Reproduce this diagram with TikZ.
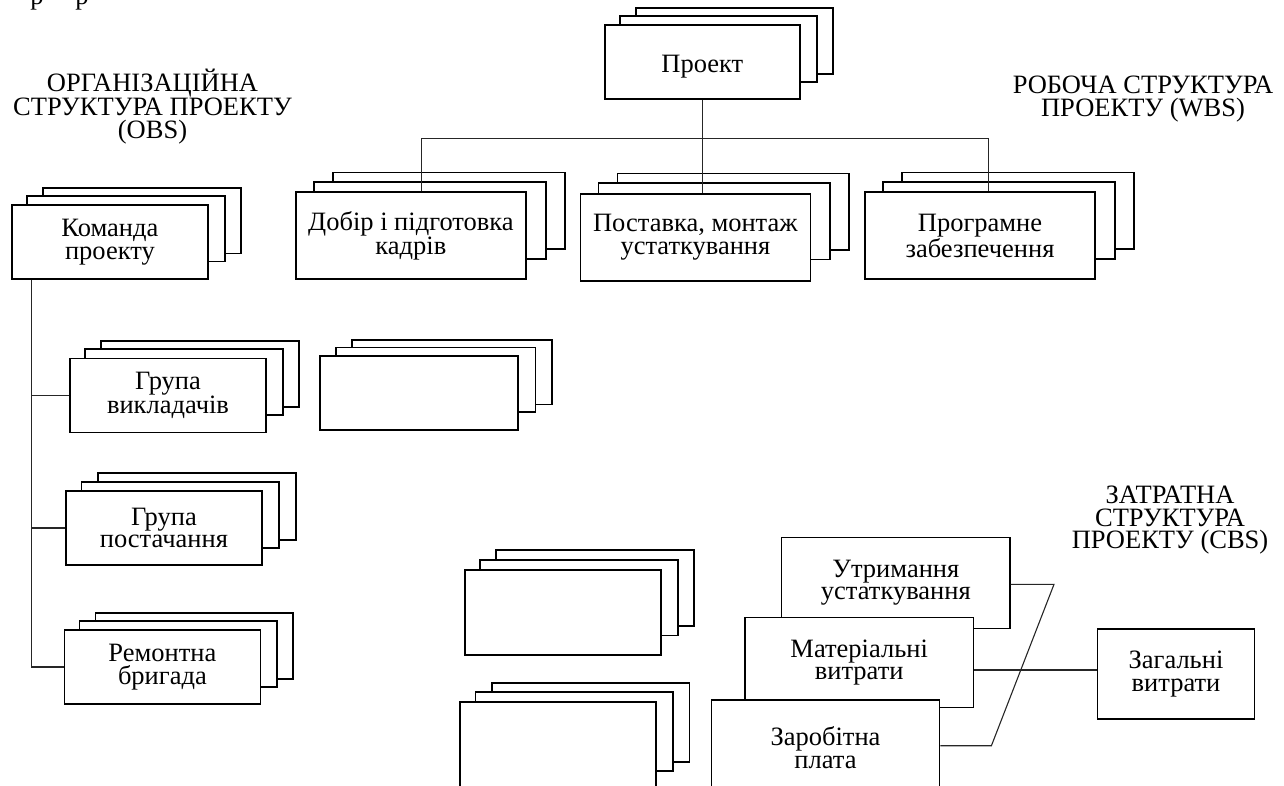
\documentclass[tikz,border=0pt]{standalone}
\usepackage{fontspec}
\setmainfont{Liberation Serif}
\usepackage{tikz}
\usetikzlibrary{calc, backgrounds}

% two sheets behind a front box: node, x step, y step, height loss
\newcommand{\backsheets}[4]{%
    \begin{scope}[on background layer]
        \foreach \k in {2,1}{
            \draw[sheet] ($(#1.north west)+(\k*#2,-\k*#3)$)
                rectangle ($(#1.south east)+(\k*#2,-\k*#3-#4)$);
        }
    \end{scope}}

\begin{document}
\begin{tikzpicture}[
    x=1pt, y=-1pt,
    % ── Text style ───────────────────────────────────────────────────
    txt/.style={font=\fontsize{26.5}{22.5}\selectfont,
                align=center, inner sep=0pt},
    % ── Box styles (front text sits a little low, as in the source) ──
    front/.style={txt, draw, rectangle, fill=white, line width=1.8pt,
                  execute at begin node={\rule{0pt}{26pt}}},
    sheet/.style={draw, fill=white, line width=1.8pt},
    obsbox/.style={front, minimum width=196pt, minimum height=74pt},
    wbsbox/.style={front, minimum width=230pt, minimum height=87pt},
    costbox/.style={txt, draw, rectangle, fill=white, line width=1.3pt,
                    minimum width=228.5pt, minimum height=91pt},
    % ── Connectors ───────────────────────────────────────────────────
    link/.style={line width=1.1pt, draw=black!85}
]
    \useasboundingbox (0,0) rectangle (1284,785);
    \clip (0,0) rectangle (1284,785);

% ══════════════════════════════════════════════════════════════════════
% TITLES
% ══════════════════════════════════════════════════════════════════════

    \node[txt, anchor=base] (cut1) at (37,4.5) {р};
    \node[txt, anchor=base] (cut2) at (82,4.5) {р};

    \node[txt] (obs) at (152.5,106.7)
        {ОРГАНІЗАЦІЙНА\\СТРУКТУРА ПРОЕКТУ\\(OBS)};
    \node[txt] (wbs) at (1143,99)
        {РОБОЧА СТРУКТУРА\\ПРОЕКТУ (WBS)};
    \node[txt] (cbs) at (1170,520.5)
        {ЗАТРАТНА\\СТРУКТУРА\\ПРОЕКТУ (CBS)};

% ══════════════════════════════════════════════════════════════════════
% WORK STRUCTURE (WBS)
% ══════════════════════════════════════════════════════════════════════

    \node[obsbox, minimum width=195pt] (proj) at (702.3,62.2) {Проект};
    \node[wbsbox] (dobir)  at (410.9,235.8) {Добір і підготовка\\кадрів};
    \node[wbsbox] (postav) at (695.4,237.2) {Поставка, монтаж\\устаткування};
    \node[wbsbox] (progr)  at (980,235.8)   {Програмне\\забезпечення};

    \backsheets{proj}{16}{8}{10}
    \backsheets{dobir}{19}{9.5}{12}
    \backsheets{postav}{19}{9.7}{12.5}
    \backsheets{progr}{19}{9.5}{12}

% ══════════════════════════════════════════════════════════════════════
% ORGANISATION STRUCTURE (OBS)
% ══════════════════════════════════════════════════════════════════════

    \node[obsbox] (team)   at (109.9,242)   {Команда\\проекту};
    \node[obsbox] (teach)  at (168,395.4)   {Група\\викладачів};
    \node[obsbox, minimum width=198pt] (blank1) at (419,393) {};
    \node[obsbox] (supply) at (163.9,528)   {Група\\постачання};
    \node[obsbox] (repair) at (162.4,667)   {Ремонтна\\бригада};
    \node[obsbox, minimum height=85pt] (blank2) at (562.9,612.5) {};
    \node[obsbox, minimum height=88pt] (blank3) at (558,745.9)   {};

    \backsheets{team}{16}{8}{10.5}
    \backsheets{teach}{16}{8.3}{10}
    \backsheets{blank1}{16.5}{7.7}{11}
    \backsheets{supply}{16.5}{8.4}{9.5}
    \backsheets{repair}{16}{8}{10}
    \backsheets{blank2}{16}{9.5}{11}
    \backsheets{blank3}{16.3}{9}{11}

% ══════════════════════════════════════════════════════════════════════
% COST STRUCTURE (CBS)
% ══════════════════════════════════════════════════════════════════════

    \node[costbox] (upkeep) at (895.8,582.8) {Утримання\\устаткування};
    \node[costbox, minimum height=90pt] (mater) at (859.2,662.5)
        {Матеріальні\\витрати};
    \node[costbox, minimum height=95pt] (wages) at (825.5,747.5)
        {Заробітна\\плата};
    \node[costbox, minimum width=156.5pt, minimum height=90pt] (total)
        at (1176,674) {Загальні\\витрати};

% ══════════════════════════════════════════════════════════════════════
% CONNECTIONS
% ══════════════════════════════════════════════════════════════════════

    \coordinate (bus) at (702.3,138.3);
    \draw[link] (proj.south) -- (proj.south |- postav.north);
    \draw[link] ([xshift=11pt]dobir.north) |- (bus)
        -| ([xshift=8.3pt]progr.north);

    \coordinate (trunk) at ([xshift=20.6pt]team.south west);
    \draw[link] (trunk) |- (repair.west);
    \draw[link] (trunk |- teach.west) -- (teach.west);
    \draw[link] (trunk |- supply.west) -- (supply.west);

    \coordinate (knee1) at (1054,584.3);
    \coordinate (knee2) at (991.4,745.7);
    \draw[link] (upkeep.east |- knee1) -- (knee1) -- (knee2)
        -- (knee2 -| wages.east);
    \draw[link] (mater.east |- 0,670) -- (total.west |- 0,670);

\end{tikzpicture}
\end{document}
